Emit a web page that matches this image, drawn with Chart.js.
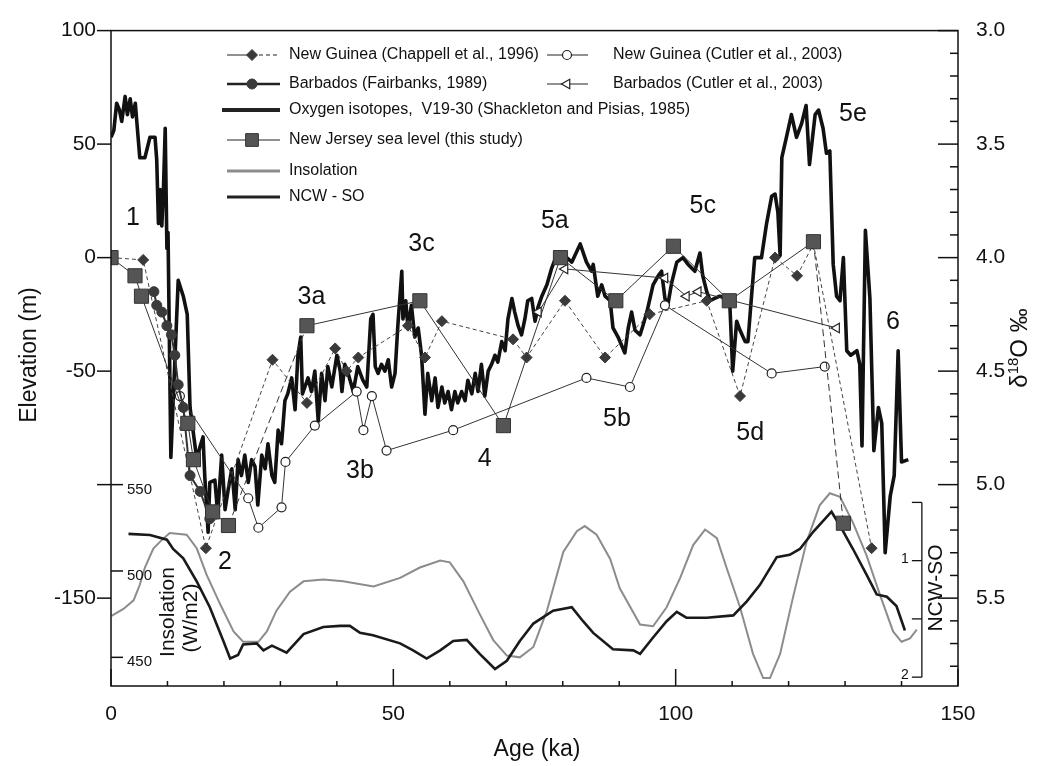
<!DOCTYPE html>
<html>
<head>
<meta charset="utf-8">
<script src="https://cdn.jsdelivr.net/npm/chart.js@4.4.1/dist/chart.umd.min.js"></script>
<style>
  html, body { margin: 0; padding: 0; background: #fff; }
</style>
</head>
<body>
<canvas id="chart" width="1037" height="766"></canvas>
<script>
// ---- data ----
// Oxygen isotopes, V19-30 (per mil)
const o18Age = [0.0,0.5,1.0,1.5,1.9,2.5,2.9,3.4,3.8,4.3,4.6,5.1,6.0,6.6,6.9,7.8,8.1,8.4,8.7,9.0,
  9.3,9.6,9.9,10.1,10.6,11.9,12.8,13.5,14.0,15.2,15.8,16.3,16.6,17.2,17.5,18.4,18.9,19.6,20.2,20.7,
  21.4,22.0,22.5,23.1,23.7,24.3,24.9,25.5,26.0,26.7,27.3,27.8,28.5,29.0,29.6,30.2,30.8,31.3,32.0,32.6,
  33.1,33.6,33.9,34.9,35.5,36.1,36.7,37.3,37.9,38.4,39.1,40.0,40.6,40.9,41.4,42.0,42.9,43.7,44.6,45.3,
  46.0,46.4,46.8,47.3,47.9,48.5,49.1,49.7,50.3,50.8,51.5,51.7,52.2,52.6,53.2,53.8,54.4,55.0,55.6,56.1,
  56.8,57.4,57.9,58.6,59.1,59.7,60.3,60.9,61.4,62.1,62.7,63.2,63.9,64.5,65.0,65.6,66.2,66.8,67.4,68.0,
  68.5,69.2,69.8,70.3,71.0,71.5,72.1,72.7,73.3,73.8,74.5,75.1,75.6,76.3,77.2,78.0,78.9,79.5,80.7,81.6,
  83.1,84.2,85.1,85.4,86.2,86.9,87.5,88.4,88.9,89.8,91.0,91.6,92.2,92.8,93.7,94.2,94.9,96.0,96.9,97.5,
  98.1,98.6,99.3,100.2,101.3,102.2,103.4,104.3,104.8,105.5,106.1,106.9,107.8,108.7,109.6,110.1,110.8,111.4,112.3,112.8,
  113.5,114.0,115.2,116.1,117.0,117.6,118.1,118.5,118.8,119.7,120.5,121.4,122.3,123.1,123.7,124.7,125.3,126.1,126.7,127.3,
  127.9,128.5,129.1,129.7,130.3,131.0,132.1,132.6,133.0,133.6,134.4,135.1,135.9,136.5,137.1,138.0,138.7,139.4,140.0,141.2];
const o18Val = [3.47,3.44,3.32,3.35,3.40,3.29,3.37,3.30,3.38,3.32,3.41,3.56,3.56,3.50,3.47,3.47,3.57,3.85,3.70,3.86,
  3.69,3.43,3.96,3.89,4.88,4.10,4.17,4.25,4.66,4.89,4.83,4.79,4.96,5.21,4.99,4.98,5.13,4.87,5.11,5.03,
  4.93,5.11,4.89,4.96,4.87,4.99,4.89,4.92,5.09,4.87,4.93,4.82,4.96,4.99,4.76,4.82,4.63,4.60,4.53,4.67,
  4.43,4.35,4.60,4.53,4.59,4.50,4.72,4.51,4.63,4.48,4.57,4.43,4.50,4.59,4.47,4.51,4.59,4.48,4.54,4.57,
  4.27,4.25,4.48,4.51,4.47,4.50,4.45,4.57,4.51,4.30,4.06,4.27,4.19,4.31,4.21,4.35,4.31,4.43,4.69,4.51,
  4.63,4.53,4.66,4.57,4.64,4.59,4.67,4.59,4.64,4.59,4.63,4.54,4.60,4.51,4.59,4.47,4.61,4.50,4.47,4.43,
  4.46,4.37,4.41,4.27,4.18,4.24,4.30,4.34,4.27,4.19,4.18,4.28,4.22,4.17,4.12,4.05,3.99,3.98,4.00,4.02,
  3.94,4.02,4.06,4.03,4.17,4.12,4.17,4.19,4.31,4.35,4.42,4.31,4.24,4.32,4.34,4.30,4.24,4.12,4.08,4.06,
  4.18,4.21,4.11,4.02,4.00,4.03,4.06,3.98,4.08,4.15,4.19,4.18,4.17,4.18,4.21,4.50,4.28,4.32,4.37,4.37,
  4.15,4.00,4.00,3.85,3.73,3.72,3.80,3.99,3.56,3.46,3.37,3.47,3.41,3.33,3.59,3.37,3.35,3.43,3.54,3.53,
  4.03,4.17,4.19,4.00,4.41,4.43,4.41,4.47,4.83,3.88,4.18,4.85,4.66,4.73,5.30,5.05,4.96,4.41,4.90,4.89];

// New Jersey sea level (this study), m
const njAge  = [0, 4.25, 5.4, 13.6, 14.6, 18.0, 20.8, 34.7, 54.7, 69.5, 79.6, 89.4, 99.6, 109.5, 124.4, 129.7];
const njElev = [0, -8, -17, -73, -89, -112, -118, -30, -19, -74, 0, -19, 5, -19, 7, -117];

// New Guinea (Chappell et al., 1996)
const chAge  = [0, 5.7, 16.8, 28.6, 34.7, 39.7, 41.7, 43.8, 52.6, 55.6, 58.6, 71.2, 73.6, 80.4, 87.5, 95.4, 105.5, 111.4, 117.6, 121.5, 124.4, 134.7];
const chElev = [0, -1, -128, -45, -64, -40, -50, -44, -30, -44, -28, -36, -44, -19, -44, -25, -19, -61, 0, -8, 6, -128];

// Barbados (Fairbanks, 1989)
const fbAge  = [7.6, 8.1, 9.0, 9.9, 10.7, 11.3, 11.9, 12.8, 14.0, 15.8, 17.5];
const fbElev = [-15, -21, -24, -30, -34, -43, -56, -66, -96, -103, -115];

// New Guinea (Cutler et al., 2003)
const cnAge  = [12.2, 24.3, 26.1, 30.2, 30.9, 36.1, 43.5, 44.7, 46.2, 48.8, 60.6, 84.2, 91.9, 98.1, 117.0, 126.4];
const cnElev = [-61, -106, -119, -110, -90, -74, -59, -76, -61, -85, -76, -53, -57, -21, -51, -48];

// Barbados (Cutler et al., 2003)
const cbAge  = [75.7, 80.4, 98.1, 101.9, 104.0, 128.5];
const cbElev = [-24, -5, -9, -17, -15, -31];

// Insolation, W/m2
const insAge = [0.1,2.2,4.0,5.1,6.0,7.5,9.0,10.4,13.4,15.2,16.9,19.3,21.7,23.4,26.1,27.6,29.3,31.7,34.1,37.6,
  41.1,46.5,51.2,54.7,58.3,60.0,62.4,65.3,67.7,70.1,72.4,74.8,77.2,80.1,82.5,83.9,86.0,88.4,90.1,93.7,
  96.0,98.4,100.8,103.1,105.2,107.3,109.0,111.4,113.7,115.5,116.7,118.5,120.8,123.2,125.5,127.3,129.1,131.4,133.8,136.2,
  138.5,140.0,141.5,142.7];
const insVal = [474,478,483,492,502,513,518,522,521,513,498,481,465,459,459,465,477,488,494,495,
  494,491,496,502,506,505,494,475,460,451,450,456,477,511,523,526,521,507,490,469,
  468,479,496,515,524,519,502,479,452,438,438,452,485,517,538,545,543,528,509,486,
  465,459,461,466];

// NCW - SO
const ncwAge = [3.1,6.9,9.9,11.0,12.8,15.2,17.5,19.9,21.1,22.5,23.4,25.8,27.0,28.5,31.1,34.1,37.6,40.6,42.3,44.1,
  46.4,51.2,53.5,55.9,58.3,60.6,63.0,65.3,68.0,70.1,72.4,74.8,78.3,81.6,83.6,85.4,88.9,92.5,93.7,96.0,
  98.4,100.2,101.9,105.5,110.2,112.6,114.9,117.9,120.2,122.0,124.4,127.6,129.1,131.4,133.8,135.6,137.4,139.1,140.6];
const ncwVal = [0.77,0.78,0.82,0.90,0.98,1.18,1.40,1.69,1.84,1.81,1.72,1.71,1.77,1.73,1.79,1.63,1.57,1.56,1.56,1.62,
  1.64,1.71,1.77,1.84,1.77,1.69,1.68,1.80,1.93,1.86,1.69,1.54,1.43,1.40,1.52,1.62,1.76,1.77,1.80,1.66,
  1.52,1.44,1.49,1.49,1.47,1.35,1.21,0.97,0.95,0.90,0.75,0.58,0.70,0.90,1.12,1.29,1.31,1.39,1.60];

// ticks
const ageTicks = [0, 50, 100, 150];
const elevTicks = [100, 50, 0, -50, -100, -150];
const d18Ticks = [3.0, 3.5, 4.0, 4.5, 5.0, 5.5];
const insTicks = [450, 500, 550];
const ncwTicks = [1, 1.5, 2];

// marine isotope stage labels (age, elevation)
const stageNames = ['1', '2', '3a', '3b', '3c', '4', '5a', '5b', '5c', '5d', '5e', '6'];
const stageAge  = [3.9, 20.2, 35.5, 44.1, 55.0, 66.2, 78.6, 89.6, 104.8, 113.2, 131.4, 138.5];
const stageElev = [17.5, -134, -17.3, -94, 6, -88.7, 16, -71.3, 22.6, -77.4, 63, -28.3];

const legendLabels = [
  'New Guinea (Chappell et al., 1996)',
  'Barbados (Fairbanks, 1989)',
  'Oxygen isotopes,  V19-30 (Shackleton and Pisias, 1985)',
  'New Jersey sea level (this study)',
  'Insolation',
  'NCW - SO',
  'New Guinea (Cutler et al., 2003)',
  'Barbados (Cutler et al., 2003)'
];

// axis ranges
const ELEV_MIN = -188.7, ELEV_MAX = 100;

const zip = (xs, ys) => xs.map((x, i) => ({ x: x, y: ys[i] }));
const FONT = "'Liberation Sans', Arial, sans-serif";
const INK = '#111';

const dsChappell = {
  label: legendLabels[0], data: zip(chAge, chElev), yAxisID: 'y', order: 2,
  showLine: true, borderColor: '#444', borderWidth: 1, borderDash: [4, 3],
  pointStyle: 'rectRot', pointRadius: 5.5, pointBackgroundColor: '#3a3a3a', pointBorderColor: '#3a3a3a', pointBorderWidth: 1
};
const dsFairbanks = {
  label: legendLabels[1], data: zip(fbAge, fbElev), yAxisID: 'y', order: 1,
  showLine: true, borderColor: '#333', borderWidth: 2,
  pointStyle: 'circle', pointRadius: 5, pointBackgroundColor: '#3a3a3a', pointBorderColor: '#3a3a3a', pointBorderWidth: 1
};
const dsOxygen = {
  label: legendLabels[2], data: zip(o18Age, o18Val), yAxisID: 'y2', order: 5,
  showLine: true, borderColor: INK, borderWidth: 3.6, borderJoinStyle: 'round', pointRadius: 0
};
const njDashedFrom = [6, 14];
const dsNJ = {
  label: legendLabels[3], data: zip(njAge, njElev), yAxisID: 'y', order: 0,
  showLine: true, borderColor: '#333', borderWidth: 1,
  segment: { borderDash: c => njDashedFrom.includes(c.p0DataIndex) ? [7, 4] : [] },
  pointStyle: 'rect', pointRadius: 10, pointBackgroundColor: '#555', pointBorderColor: '#333', pointBorderWidth: 1
};
const dsIns = {
  label: legendLabels[4], data: zip(insAge, insVal), yAxisID: 'ins', order: 7,
  showLine: true, borderColor: '#8c8c8c', borderWidth: 2, pointRadius: 0
};
const dsNcw = {
  label: legendLabels[5], data: zip(ncwAge, ncwVal), yAxisID: 'ncw', order: 6,
  showLine: true, borderColor: '#1a1a1a', borderWidth: 2.6, pointRadius: 0
};
const dsCutlerNG = {
  label: legendLabels[6], data: zip(cnAge, cnElev), yAxisID: 'y', order: 4,
  showLine: true, borderColor: '#333', borderWidth: 1,
  pointStyle: 'circle', pointRadius: 4.5, pointBackgroundColor: '#fff', pointBorderColor: '#222', pointBorderWidth: 1.2
};
const dsCutlerBB = {
  label: legendLabels[7], data: zip(cbAge, cbElev), yAxisID: 'y', order: 3,
  showLine: true, borderColor: '#333', borderWidth: 1,
  pointStyle: 'triangle', pointRotation: -90, pointRadius: 5.5, pointBackgroundColor: '#fff', pointBorderColor: '#222', pointBorderWidth: 1.2
};

function seg(ctx, x1, y1, x2, y2) {
  ctx.beginPath(); ctx.moveTo(x1, y1); ctx.lineTo(x2, y2); ctx.stroke();
}

const decor = {
  id: 'decor',
  afterDatasetsDraw(chart) {
    const { ctx, chartArea: a, scales: s } = chart;
    ctx.save();
    ctx.strokeStyle = INK;
    ctx.fillStyle = INK;
    ctx.lineWidth = 1.5;
    ctx.setLineDash([]);

    // frame
    ctx.strokeRect(a.left, a.top, a.right - a.left, a.bottom - a.top);

    // age ticks, inward
    for (let v = 0; v <= 150; v += 10) {
      const x = s.x.getPixelForValue(v);
      seg(ctx, x, a.bottom, x, a.bottom - (ageTicks.includes(v) ? 17 : 5));
    }
    // elevation ticks, outward
    elevTicks.forEach(v => {
      const y = s.y.getPixelForValue(v);
      seg(ctx, a.left - 14, y, a.left, y);
    });
    // d18O ticks, inward
    for (let i = 0; i <= 28; i++) {
      const y = s.y2.getPixelForValue(3 + i * 0.1);
      seg(ctx, a.right - (i % 5 === 0 ? 20 : 8), y, a.right, y);
    }

    // insolation axis inside the plot
    ctx.font = '15px ' + FONT;
    ctx.textAlign = 'left';
    ctx.textBaseline = 'middle';
    insTicks.forEach(v => {
      const y = s.ins.getPixelForValue(v);
      seg(ctx, a.left, y, a.left + 12, y);
      ctx.fillText(String(v), a.left + 16, y + 5);
    });
    ctx.save();
    ctx.translate(168, 612);
    ctx.rotate(-Math.PI / 2);
    ctx.textAlign = 'center';
    ctx.font = '21px ' + FONT;
    ctx.fillText('Insolation', 0, 0);
    ctx.fillText('(W/m2)', -6, 23);
    ctx.restore();

    // NCW-SO bracket
    const bx = s.x.getPixelForValue(143.6);
    const yTop = s.ncw.getPixelForValue(0.5), yBot = s.ncw.getPixelForValue(2);
    ctx.lineWidth = 1.3;
    seg(ctx, bx, yTop, bx, yBot);
    seg(ctx, bx - 10, yTop, bx, yTop);
    ctx.font = '14px ' + FONT;
    ctx.textAlign = 'right';
    ncwTicks.forEach(v => {
      const y = s.ncw.getPixelForValue(v);
      seg(ctx, bx - 10, y, bx, y);
      if (v % 1 === 0) ctx.fillText(String(v), bx - 13, y - 2);
    });
    ctx.save();
    ctx.translate(bx + 14, 588);
    ctx.rotate(-Math.PI / 2);
    ctx.textAlign = 'center';
    ctx.font = '21px ' + FONT;
    ctx.fillText('NCW-SO', 0, 0);
    ctx.restore();

    // stage labels
    ctx.font = '25px ' + FONT;
    ctx.textAlign = 'center';
    stageNames.forEach((t, i) => {
      ctx.fillText(t, s.x.getPixelForValue(stageAge[i]), s.y.getPixelForValue(stageElev[i]));
    });

    // axis titles
    ctx.font = '23px ' + FONT;
    ctx.fillText('Age (ka)', 537, 750);
    ctx.save();
    ctx.translate(30, 355);
    ctx.rotate(-Math.PI / 2);
    ctx.fillText('Elevation (m)', 0, 0);
    ctx.restore();
    ctx.save();
    ctx.translate(1020, 348);
    ctx.rotate(-Math.PI / 2);
    ctx.textAlign = 'left';
    ctx.font = '24px ' + FONT;
    let w = ctx.measureText('δ').width;
    ctx.font = '15px ' + FONT;
    const w18 = ctx.measureText('18').width;
    ctx.font = '24px ' + FONT;
    const wO = ctx.measureText('O ‰').width;
    let x0 = -(w + w18 + wO) / 2;
    ctx.fillText('δ', x0, 0);
    ctx.font = '15px ' + FONT;
    ctx.fillText('18', x0 + w, -6);
    ctx.font = '24px ' + FONT;
    ctx.fillText('O ‰', x0 + w + w18, 0);
    ctx.restore();

    // legend
    const rows = [55, 84, 110, 140, 171, 197];
    const items = [
      { ds: dsChappell, x: 227, x2: 280, m: 252, tx: 289, y: rows[0], lw: 1, dashRight: true },
      { ds: dsFairbanks, x: 227, x2: 280, m: 252, tx: 289, y: rows[1], lw: 2.4 },
      { ds: dsOxygen, x: 222, x2: 280, m: null, tx: 289, y: rows[2], lw: 4 },
      { ds: dsNJ, x: 227, x2: 280, m: 252, tx: 289, y: rows[3], lw: 1 },
      { ds: dsIns, x: 227, x2: 280, m: null, tx: 289, y: rows[4], lw: 3 },
      { ds: dsNcw, x: 227, x2: 280, m: null, tx: 289, y: rows[5], lw: 3 },
      { ds: dsCutlerNG, x: 547, x2: 588, m: 567, tx: 613, y: rows[0], lw: 1 },
      { ds: dsCutlerBB, x: 547, x2: 588, m: 567, tx: 613, y: rows[1], lw: 1 }
    ];
    ctx.font = '16px ' + FONT;
    ctx.textAlign = 'left';
    ctx.textBaseline = 'middle';
    items.forEach(it => {
      const d = it.ds;
      ctx.strokeStyle = '#222';
      if (d === dsIns) ctx.strokeStyle = d.borderColor;
      ctx.lineWidth = it.lw;
      if (it.dashRight) {
        seg(ctx, it.x, it.y, it.m, it.y);
        ctx.setLineDash([4, 3]);
        seg(ctx, it.m, it.y, it.x2, it.y);
        ctx.setLineDash([]);
      } else {
        seg(ctx, it.x, it.y, it.x2, it.y);
      }
      if (it.m !== null) {
        ctx.fillStyle = d.pointBackgroundColor;
        ctx.strokeStyle = d.pointBorderColor;
        ctx.lineWidth = d.pointBorderWidth;
        Chart.helpers.drawPoint(ctx, {
          pointStyle: d.pointStyle, radius: d.pointStyle === 'rect' ? 9 : d.pointRadius,
          rotation: d.pointRotation || 0, borderWidth: d.pointBorderWidth
        }, it.m, it.y);
      }
      ctx.fillStyle = INK;
      ctx.fillText(d.label, it.tx, it.y);
    });
    ctx.restore();
  }
};

new Chart(document.getElementById('chart'), {
  type: 'scatter',
  data: { datasets: [dsChappell, dsFairbanks, dsOxygen, dsNJ, dsIns, dsNcw, dsCutlerNG, dsCutlerBB] },
  options: {
    responsive: false,
    animation: false,
    layout: { padding: { top: 22, left: 0, right: 0, bottom: 0 } },
    plugins: { legend: { display: false }, tooltip: { enabled: false } },
    scales: {
      x: {
        type: 'linear', position: 'bottom', min: 0, max: 150,
        afterBuildTicks: sc => { sc.ticks = ageTicks.map(v => ({ value: v })); },
        afterFit: sc => { sc.height = 80; },
        grid: { display: false, drawTicks: false }, border: { display: false },
        ticks: { padding: 16, color: INK, font: { size: 21, family: FONT }, maxRotation: 0 }
      },
      y: {
        type: 'linear', position: 'left', min: ELEV_MIN, max: ELEV_MAX,
        afterBuildTicks: sc => { sc.ticks = elevTicks.map(v => ({ value: v })); },
        afterFit: sc => { sc.width = 111; },
        grid: { display: false, drawTicks: false }, border: { display: false },
        ticks: { padding: 15, color: INK, font: { size: 21, family: FONT },
          callback: v => (v === -100 ? '' : String(v)) }
      },
      y2: {
        type: 'linear', position: 'right', reverse: true,
        min: 4 - ELEV_MAX / 100, max: 4 - ELEV_MIN / 100,
        afterBuildTicks: sc => { sc.ticks = d18Ticks.map(v => ({ value: v })); },
        afterFit: sc => { sc.width = 79; },
        grid: { display: false, drawTicks: false }, border: { display: false },
        ticks: { padding: 18, color: INK, font: { size: 21, family: FONT }, callback: v => v.toFixed(1) }
      },
      ins: { type: 'linear', display: false, min: 433.4, max: 812.9 },
      ncw: { type: 'linear', display: false, reverse: true, min: -3.55, max: 2.076 }
    }
  },
  plugins: [decor]
});
</script>
</body>
</html>
